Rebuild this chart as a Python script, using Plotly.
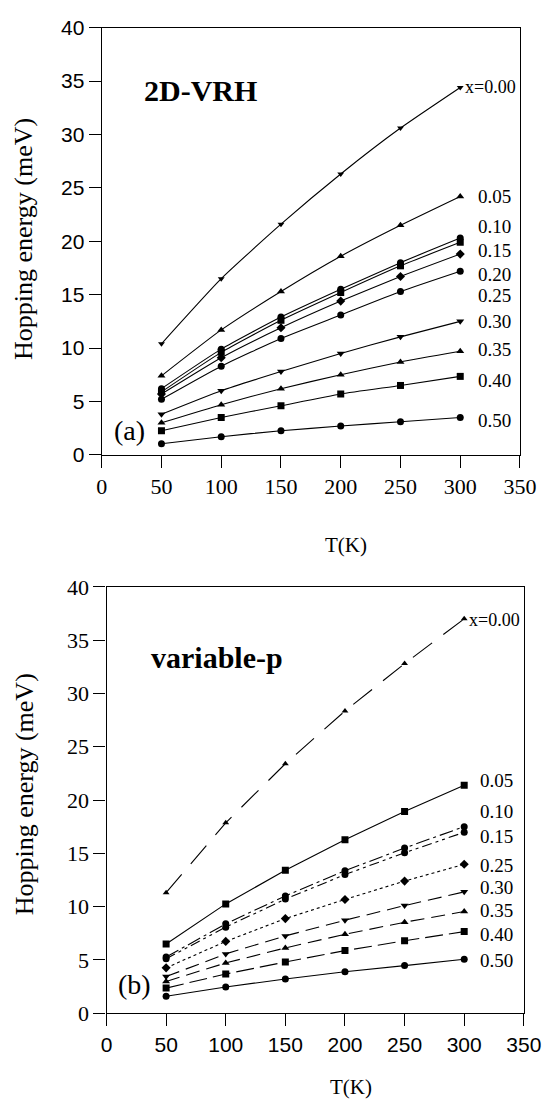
import plotly.graph_objects as go

T = [50, 100, 150, 200, 250, 300]

# Panel (a): 2D-VRH
a_labels = ["x=0.00", "0.05", "0.10", "0.15", "0.20", "0.25", "0.30", "0.35", "0.40", "0.50"]
a_x000 = [10.4, 16.5, 21.6, 26.3, 30.6, 34.4]
a_x005 = [7.4, 11.7, 15.3, 18.6, 21.5, 24.2]
a_x010 = [6.2, 9.9, 12.9, 15.5, 18.0, 20.3]
a_x015 = [5.9, 9.6, 12.6, 15.2, 17.7, 19.9]
a_x020 = [5.7, 9.1, 11.9, 14.4, 16.7, 18.8]
a_x025 = [5.2, 8.3, 10.9, 13.1, 15.3, 17.2]
a_x030 = [3.8, 6.0, 7.8, 9.5, 11.05, 12.5]
a_x035 = [3.0, 4.7, 6.2, 7.5, 8.7, 9.7]
a_x040 = [2.26, 3.5, 4.6, 5.7, 6.5, 7.35]
a_x050 = [1.04, 1.7, 2.26, 2.7, 3.1, 3.5]
a_series = [a_x000, a_x005, a_x010, a_x015, a_x020, a_x025, a_x030, a_x035, a_x040, a_x050]
a_label_y = [34.4, 24.2, 21.4, 19.1, 16.9, 14.9, 12.5, 9.9, 7.0, 3.2]

# Panel (b): variable-p
b_labels = ["x=0.00", "0.05", "0.10", "0.15", "0.25", "0.30", "0.35", "0.40", "0.50"]
b_x000 = [11.3, 17.86, 23.4, 28.35, 32.8, 37.0]
b_x005 = [6.49, 10.25, 13.4, 16.27, 18.93, 21.38]
b_x010 = [5.26, 8.38, 11.0, 13.36, 15.5, 17.5]
b_x015 = [5.1, 8.07, 10.7, 13.0, 15.05, 16.97]
b_x025 = [4.25, 6.73, 8.87, 10.67, 12.39, 13.97]
b_x030 = [3.43, 5.56, 7.25, 8.72, 10.09, 11.38]
b_x035 = [2.97, 4.71, 6.12, 7.4, 8.53, 9.54]
b_x040 = [2.35, 3.67, 4.8, 5.87, 6.79, 7.65]
b_x050 = [1.59, 2.45, 3.21, 3.88, 4.46, 5.05]
b_series = [b_x000, b_x005, b_x010, b_x015, b_x025, b_x030, b_x035, b_x040, b_x050]
b_label_y = [36.9, 21.8, 18.9, 16.6, 13.9, 11.8, 9.6, 7.4, 4.95]

x_ticks = [0, 50, 100, 150, 200, 250, 300, 350]
y_ticks = [0, 5, 10, 15, 20, 25, 30, 35, 40]

a_markers = ["triangle-down", "triangle-up", "circle", "square", "diamond",
             "circle", "triangle-down", "triangle-up", "square", "circle"]
b_markers = ["triangle-up", "square", "circle", "circle", "diamond",
             "triangle-down", "triangle-up", "square", "circle"]
b_dashes = ["24px,14px", "solid", "14px,4px,3px,4px", "10px,4px,3px,4px,3px,4px", "dot",
            "14px,7px", "14px,7px", "18px,6px", "solid"]

SERIF = "Liberation Serif, Times New Roman, serif"
SANS = "Liberation Sans, Arial, sans-serif"

fig = go.Figure()

for lab, ys, m in zip(a_labels, a_series, a_markers):
    fig.add_trace(go.Scatter(
        x=T, y=ys, mode="lines+markers", xaxis="x", yaxis="y",
        line=dict(color="black", width=1.1, shape="spline", smoothing=0.5),
        marker=dict(symbol=m, size=7 if lab != "x=0.00" else 6, color="black"),
        showlegend=False, name=lab))

for lab, ys, m, d in zip(b_labels, b_series, b_markers, b_dashes):
    fig.add_trace(go.Scatter(
        x=T, y=ys, mode="lines+markers", xaxis="x2", yaxis="y2",
        line=dict(color="black", width=1.1, dash=d),
        marker=dict(symbol=m, size=7 if lab != "x=0.00" else 6, color="black"),
        showlegend=False, name=lab))

ann = []
for lab, yv in zip(a_labels, a_label_y):
    ann.append(dict(x=303 if lab == "x=0.00" else 314, y=yv, xref="x", yref="y",
                    text=lab, showarrow=False, xanchor="left", yanchor="middle", borderpad=0,
                    font=dict(family=SERIF, size=18 if lab == "x=0.00" else 19, color="black")))
for lab, yv in zip(b_labels, b_label_y):
    ann.append(dict(x=303 if lab == "x=0.00" else 312, y=yv, xref="x2", yref="y2",
                    text=lab, showarrow=False, xanchor="left", yanchor="middle", borderpad=0,
                    font=dict(family=SERIF, size=18 if lab == "x=0.00" else 19, color="black")))

ann += [
    dict(x=34, y=34.1, xref="x", yref="y", text="<b>2D-VRH</b>", showarrow=False,
         xanchor="left", yanchor="middle", font=dict(family=SERIF, size=30, color="black")),
    dict(x=23, y=2.3, xref="x", yref="y", text="(a)", showarrow=False,
         xanchor="center", yanchor="middle", font=dict(family=SERIF, size=28, color="black")),
    dict(x=36, y=33.4, xref="x2", yref="y2", text="<b>variable-p</b>", showarrow=False,
         xanchor="left", yanchor="middle", font=dict(family=SERIF, size=30, color="black")),
    dict(x=23.3, y=2.66, xref="x2", yref="y2", text="(b)", showarrow=False,
         xanchor="center", yanchor="middle", font=dict(family=SERIF, size=28, color="black")),
    # axis titles
    dict(x=355 / 560, y=1 - 545 / 1120, xref="paper", yref="paper", text="T(K)",
         showarrow=False, xanchor="center", yanchor="middle",
         font=dict(family=SERIF, size=21, color="black")),
    dict(x=360 / 560, y=1 - 1100 / 1120, xref="paper", yref="paper", text="T(K)",
         showarrow=False, xanchor="center", yanchor="middle",
         font=dict(family=SERIF, size=21, color="black")),
    dict(x=19 / 560, y=1 - 232 / 1120, xref="paper", yref="paper", text="Hopping energy (meV)",
         showarrow=False, xanchor="center", yanchor="middle", textangle=-90,
         font=dict(family=SERIF, size=26, color="black")),
    dict(x=19 / 560, y=1 - 800 / 1120, xref="paper", yref="paper", text="Hopping energy (meV)",
         showarrow=False, xanchor="center", yanchor="middle", textangle=-90,
         font=dict(family=SERIF, size=26, color="black")),
]

axis_common = dict(showline=True, linecolor="black", linewidth=1.4, mirror=True,
                   showgrid=False, zeroline=False, ticks="outside", ticklen=12,
                   tickcolor="black", tickwidth=1.2)

fig.update_layout(
    width=560, height=1120, margin=dict(l=0, r=0, t=0, b=0),
    plot_bgcolor="white", paper_bgcolor="white",
    xaxis=dict(domain=[100 / 560, 537 / 560], range=[0, 350], tickvals=x_ticks,
               anchor="y", tickfont=dict(family=SERIF, size=22, color="black"), **axis_common),
    yaxis=dict(domain=[1 - 453 / 1120, 1 - 16 / 1120], range=[0, 40], tickvals=y_ticks,
               anchor="x", tickfont=dict(family=SANS, size=21, color="black"), **axis_common),
    xaxis2=dict(domain=[105 / 560, 541 / 560], range=[0, 350], tickvals=x_ticks,
                anchor="y2", tickfont=dict(family=SANS, size=21, color="black"), **axis_common),
    yaxis2=dict(domain=[1 - 1024 / 1120, 1 - 588 / 1120], range=[0, 40], tickvals=y_ticks,
                anchor="x2", tickfont=dict(family=SERIF, size=22, color="black"), **axis_common),
    annotations=ann,
)

fig.write_html("out.html")
